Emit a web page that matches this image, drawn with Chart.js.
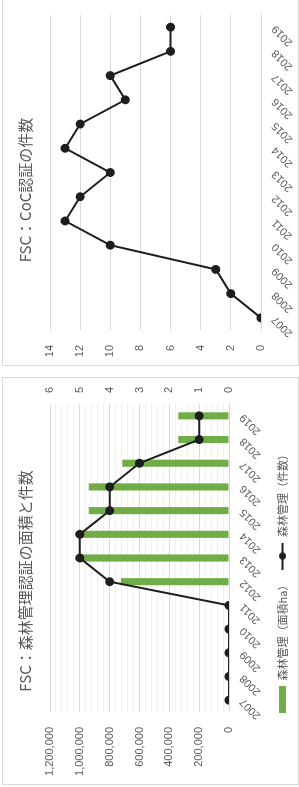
<!DOCTYPE html>
<html>
<head>
<meta charset="utf-8">
<script src="https://cdn.jsdelivr.net/npm/chart.js@4"></script>
<style>
    html, body { margin: 0; padding: 0; background: #fff; overflow: hidden; }
    body { width: 299px; height: 787px; position: relative; }
    /* the whole sheet is laid out landscape, then turned a quarter counter-clockwise */
    #sheet {
        position: absolute; left: 0; top: 0;
        width: 787px; height: 299px;
        transform-origin: 0 0;
        transform: translateY(787px) rotate(-90deg);
    }
    .box {
        position: absolute; box-sizing: border-box;
        border: 1px solid #d9d9d9; background: #fff;
    }
    .box canvas { display: block; }
</style>
</head>
<body>
<div id="sheet">
    <div class="box" style="left:2px; top:2px; width:408px; height:297px;">
        <canvas id="fmChart" width="406" height="295"></canvas>
    </div>
    <div class="box" style="left:421px; top:2px; width:367px; height:297px;">
        <canvas id="cocChart" width="365" height="295"></canvas>
    </div>
</div>
<script>
const years = ['2007', '2008', '2009', '2010', '2011', '2012', '2013', '2014', '2015', '2016', '2017', '2018', '2019'];

// 森林管理認証: area (ha) and number of certificates
const fmArea = [0, 0, 0, 0, 0, 725000, 985000, 985000, 940000, 940000, 715000, 340000, 340000];
const fmCount = [0, 0, 0, 0, 0, 4, 5, 5, 4, 4, 3, 1, 1];

// CoC認証 count
const cocCount = [0, 2, 3, 10, 13, 12, 10, 13, 12, 9, 10, 6, 6];

const fmTitle = 'FSC：森林管理認証の面積と件数';
const cocTitle = 'FSC：CoC認証の件数';
const fmAreaLabel = '森林管理（面積ha）';
const fmCountLabel = '森林管理（件数）';

const textColor = '#595959';
const gridColor = '#d9d9d9';
const minorGridColor = '#f0f0f0';
const barColor = '#70ad47';
const lineColor = '#1e1e1e';
const cjkFont = "'Noto Sans CJK JP', 'Noto Sans', sans-serif";
const numFont = "'Liberation Sans', Arial, sans-serif";

Chart.defaults.color = textColor;
Chart.defaults.animation = false;

// legend keys: a wide green swatch and a line with a marker
function makeSwatch() {
    const c = document.createElement('canvas');
    c.width = 27; c.height = 7;
    const ctx = c.getContext('2d');
    ctx.fillStyle = barColor;
    ctx.fillRect(0, 0, 27, 7);
    return c;
}
function makeLineKey() {
    const c = document.createElement('canvas');
    c.width = 27; c.height = 9;
    const ctx = c.getContext('2d');
    ctx.strokeStyle = lineColor;
    ctx.lineWidth = 2;
    ctx.beginPath();
    ctx.moveTo(0, 4.5); ctx.lineTo(27, 4.5);
    ctx.stroke();
    ctx.fillStyle = lineColor;
    ctx.beginPath();
    ctx.arc(13.5, 4.5, 3.5, 0, Math.PI * 2);
    ctx.fill();
    return c;
}
const swatchKey = makeSwatch();
const lineKey = makeLineKey();

// 1. 森林管理 (bars + line on second axis)
new Chart(document.getElementById('fmChart'), {
    data: {
        labels: years,
        datasets: [
            {
                type: 'bar', label: fmAreaLabel, data: fmArea, yAxisID: 'yArea',
                backgroundColor: barColor, categoryPercentage: 1, barPercentage: 0.3, order: 2
            },
            {
                type: 'line', label: fmCountLabel, data: fmCount, yAxisID: 'yCount',
                borderColor: lineColor, backgroundColor: lineColor, borderWidth: 2,
                pointRadius: 3.5, pointHoverRadius: 3.5, tension: 0, order: 1
            }
        ]
    },
    options: {
        responsive: false,
        layout: { padding: { left: 0, right: 0, top: 0, bottom: 0 } },
        plugins: {
            title: {
                display: true, text: fmTitle, color: textColor,
                font: { family: cjkFont, size: 15, weight: 'normal' },
                padding: { top: 13, bottom: 16 }
            },
            legend: {
                position: 'bottom',
                labels: {
                    usePointStyle: true, pointStyleWidth: 27, boxHeight: 9, padding: 10,
                    color: textColor, font: { family: cjkFont, size: 11 },
                    generateLabels(chart) {
                        const items = Chart.defaults.plugins.legend.labels.generateLabels(chart);
                        items.sort((a, b) => a.datasetIndex - b.datasetIndex);
                        items.forEach(it => { it.pointStyle = it.datasetIndex === 0 ? swatchKey : lineKey; });
                        return items;
                    }
                }
            },
            tooltip: { enabled: false }
        },
        scales: {
            x: {
                type: 'category', offset: true,
                grid: { display: false, drawTicks: false },
                border: { color: gridColor },
                ticks: { minRotation: 45, maxRotation: 45, padding: 8, font: { family: numFont, size: 11 } },
                afterFit: s => { s.height = 38; }
            },
            yArea: {
                position: 'left', min: 0, max: 1200000,
                grid: {
                    drawTicks: false,
                    color: ctx => (ctx.tick && ctx.tick.value % 200000 === 0) ? gridColor : minorGridColor
                },
                border: { display: false },
                ticks: {
                    stepSize: 40000, autoSkip: false, padding: 15,
                    font: { family: numFont, size: 11 },
                    callback: v => v % 200000 === 0 ? v.toLocaleString('en-US') : ''
                },
                afterFit: s => { s.width = 72; }
            },
            yCount: {
                position: 'right', min: 0, max: 6,
                grid: { drawOnChartArea: false, drawTicks: false },
                border: { display: false },
                ticks: { stepSize: 1, padding: 11, font: { family: numFont, size: 11 } },
                afterFit: s => { s.width = 26; }
            }
        }
    }
});

// 2. CoC line
new Chart(document.getElementById('cocChart'), {
    type: 'line',
    data: {
        labels: years,
        datasets: [{
            label: cocTitle, data: cocCount,
            borderColor: lineColor, backgroundColor: lineColor, borderWidth: 2,
            pointRadius: 3.5, pointHoverRadius: 3.5, tension: 0
        }]
    },
    options: {
        responsive: false,
        layout: { padding: { left: 0, right: 15, top: 0, bottom: 0 } },
        plugins: {
            title: {
                display: true, text: cocTitle, color: textColor,
                font: { family: cjkFont, size: 15, weight: 'normal' },
                padding: { top: 13, bottom: 16 }
            },
            legend: { display: false },
            tooltip: { enabled: false }
        },
        scales: {
            x: {
                offset: true,
                grid: { display: false, drawTicks: false },
                border: { color: gridColor },
                ticks: { minRotation: 45, maxRotation: 45, padding: 8, font: { family: numFont, size: 11 } },
                afterFit: s => { s.height = 37; }
            },
            y: {
                min: 0, max: 14,
                grid: { color: gridColor, drawTicks: false },
                border: { display: false },
                ticks: { stepSize: 2, padding: 15, font: { family: numFont, size: 11 } },
                afterFit: s => { s.width = 35; }
            }
        }
    }
});
</script>
</body>
</html>
